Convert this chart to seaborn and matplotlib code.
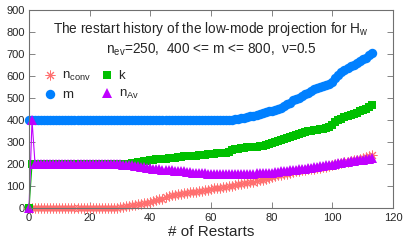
import numpy as np
import pandas as pd
import matplotlib
matplotlib.use('Agg')
import matplotlib.pyplot as plt
import seaborn as sns

# restart index 0..113
restarts = list(range(114))

m_vals = [
    400, 400, 400, 400, 400, 400, 400, 400, 400, 400,
    400, 400, 400, 400, 400, 400, 400, 400, 400, 400,
    400, 400, 400, 400, 400, 400, 400, 400, 400, 400,
    400, 400, 400, 400, 400, 400, 400, 400, 400, 400,
    400, 400, 400, 400, 400, 400, 400, 400, 400, 400,
    400, 400, 400, 400, 400, 400, 400, 400, 400, 400,
    400, 400, 400, 400, 400, 400, 400, 402, 405, 408,
    410, 412, 415, 418, 420, 425, 430, 433, 436, 440,
    443, 447, 452, 458, 465, 472, 480, 490, 497, 503,
    510, 518, 525, 532, 540, 545, 550, 554, 558, 564,
    575, 590, 605, 618, 628, 636, 645, 652, 660, 668,
    676, 684, 694, 703,
]

k_vals = [
    0, 200, 200, 200, 200, 200, 200, 200, 200, 200,
    200, 200, 200, 200, 200, 200, 200, 200, 200, 200,
    200, 200, 200, 200, 200, 200, 200, 200, 200, 200,
    200, 201, 202, 204, 206, 208, 211, 213, 215, 217,
    219, 221, 223, 224, 225, 226, 227, 228, 230, 232,
    234, 236, 237, 238, 239, 240, 241, 242, 244, 246,
    248, 249, 250, 251, 252, 253, 258, 264, 268, 271,
    273, 275, 277, 278, 279, 280, 282, 285, 289, 293,
    297, 302, 307, 312, 317, 321, 326, 331, 335, 339,
    343, 347, 350, 353, 356, 358, 360, 362, 364, 368,
    380, 392, 400, 407, 413, 418, 423, 428, 434, 440,
    446, 452, 460, 468,
]

nav_vals = [
    0, 400, 200, 200, 200, 200, 200, 200, 200, 200,
    200, 200, 200, 200, 200, 200, 200, 200, 200, 200,
    200, 200, 200, 200, 200, 200, 200, 200, 200, 200,
    200, 199, 198, 197, 195, 193, 191, 189, 187, 185,
    183, 181, 179, 177, 175, 174, 173, 173, 172, 171,
    170, 168, 166, 164, 163, 162, 161, 160, 159, 158,
    158, 157, 157, 157, 157, 156, 156, 156, 156, 157,
    157, 157, 158, 158, 158, 159, 159, 160, 161, 162,
    163, 165, 167, 169, 171, 172, 174, 175, 176, 178,
    179, 181, 183, 185, 187, 189, 191, 193, 195, 197,
    199, 202, 205, 208, 210, 212, 214, 216, 218, 220,
    222, 224, 226, 228,
]

nconv_vals = [
    0, 0, 0, 0, 0, 0, 0, 0, 0, 0,
    0, 0, 0, 0, 0, 0, 0, 0, 0, 0,
    0, 0, 0, 0, 0, 0, 0, 0, 0, 2,
    5, 8, 11, 13, 15, 17, 19, 21, 23, 26,
    29, 33, 37, 41, 45, 50, 55, 60, 63, 66,
    68, 70, 72, 74, 76, 77, 79, 81, 83, 85,
    88, 91, 93, 95, 97, 98, 100, 104, 108, 111,
    113, 115, 117, 119, 121, 124, 127, 131, 135, 140,
    144, 147, 150, 152, 155, 158, 162, 166, 169, 171,
    173, 175, 177, 179, 181, 183, 185, 187, 189, 192,
    196, 200, 204, 207, 210, 213, 216, 219, 222, 226,
    230, 234, 238, 244,
]

df = pd.DataFrame({'restart': restarts, 'nconv': nconv_vals, 'k': k_vals,
                   'm': m_vals, 'nav': nav_vals})

sns.set_style('ticks')
plt.rcParams['font.family'] = ['Liberation Sans', 'DejaVu Sans']
plt.rcParams['mathtext.fontset'] = 'custom'
plt.rcParams['mathtext.rm'] = 'Liberation Sans'
plt.rcParams['mathtext.it'] = 'Liberation Sans'

fig = plt.figure(figsize=(4.09, 2.45), dpi=100)
ax = fig.add_axes([0.0709, 0.149, 0.890, 0.810])

asterisk = (8, 2, 0)
series = [
    ('nconv', r'n$_{\rm conv}$', '#ff2020', asterisk, 7.0),
    ('k', 'k', '#00c000', 's', 6.0),
    ('m', 'm', '#0080ff', 'o', 6.8),
    ('nav', r'n$_{\rm Av}$', '#c000ff', '^', 6.8),
]
handles = {}
for col, label, color, marker, ms in series:
    is_star = marker == asterisk
    sns.lineplot(data=df, x='restart', y=col, ax=ax, color=color, marker=marker,
                 markersize=ms, markeredgewidth=0.7 if is_star else 0,
                 markeredgecolor='#ff7070' if is_star else color,
                 linewidth=0.8, label=label, clip_on=False, legend=False)
    handles[col] = ax.lines[-1]

ax.set_xlim(0, 120)
ax.set_ylim(0, 900)
ax.set_xticks(range(0, 121, 20))
ax.set_yticks(range(0, 901, 100))
ax.tick_params(direction='in', length=4, width=0.6, color='#707070',
               labelsize=8, top=True, right=True, pad=3)
ax.tick_params(axis='y', labelright=False)
for sp in ax.spines.values():
    sp.set_color('#707070')
    sp.set_linewidth(0.8)

ax.set_xlabel('# of Restarts', fontsize=11, labelpad=2)
ax.set_ylabel('')

ax.text(0.5, 0.905, r'The restart history of the low-mode projection for H$_{\rm w}$',
        transform=ax.transAxes, ha='center', va='center', fontsize=9.8)
ax.text(0.5, 0.80, r'n$_{\rm ev}$=250,  400 <= m <= 800,  ν=0.5',
        transform=ax.transAxes, ha='center', va='center', fontsize=9.8)

order = ['nconv', 'm', 'k', 'nav']
labels = {s[0]: s[1] for s in series}
leg = ax.legend([handles[c] for c in order], [labels[c] for c in order],
                ncol=2, loc='upper left', bbox_to_anchor=(0.025, 0.725),
                frameon=False, fontsize=9.5, handlelength=1.0,
                handletextpad=0.4, columnspacing=0.7, labelspacing=0.45,
                borderaxespad=0)
for h in leg.legend_handles:
    h.set_linestyle('none')

fig.savefig('out.png', dpi=100)
